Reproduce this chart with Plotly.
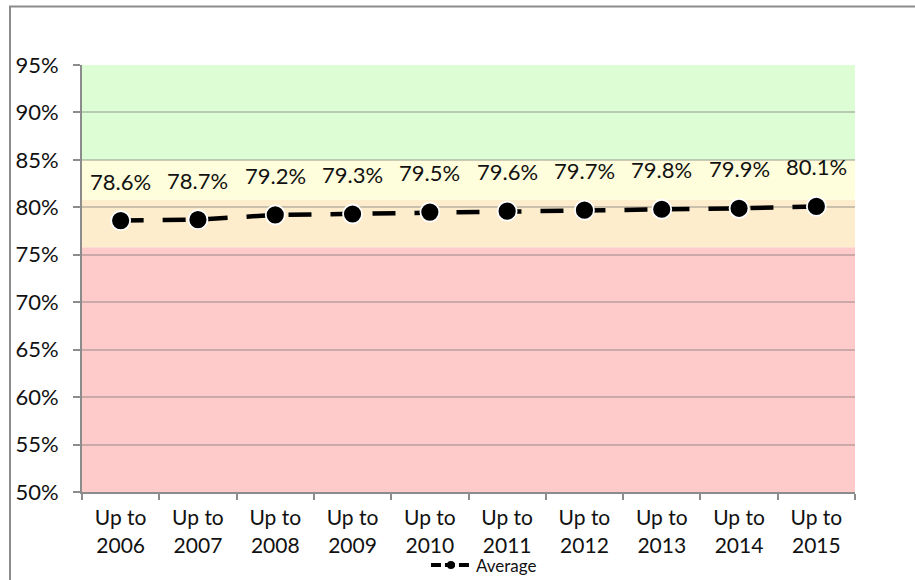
import plotly.graph_objects as go

# Cumulative average score per period
categories = ["Up to<br>2006", "Up to<br>2007", "Up to<br>2008", "Up to<br>2009", "Up to<br>2010",
              "Up to<br>2011", "Up to<br>2012", "Up to<br>2013", "Up to<br>2014", "Up to<br>2015"]
average = [78.6, 78.7, 79.2, 79.3, 79.5, 79.6, 79.7, 79.8, 79.9, 80.1]

# Rating bands (lower edge, upper edge, fill)
band_low = [50, 75.8, 80.8, 85]
band_high = [75.8, 80.8, 85, 95]
band_colors = ["#FECACA", "#FDEDCC", "#FFFEDC", "#DDFDD5"]

y_ticks = [50, 55, 60, 65, 70, 75, 80, 85, 90, 95]

FONT = "Century Gothic, Lato, sans-serif"

fig = go.Figure()

fig.add_trace(go.Scatter(
    x=categories, y=average, mode="lines+markers", showlegend=False,
    line=dict(color="black", width=4.5, dash="23px,19px"),
    marker=dict(size=19, color="black", line=dict(color="white", width=1.8)),
    cliponaxis=False,
))

# legend entry
fig.add_trace(go.Scatter(
    x=[None], y=[None], mode="lines+markers", name="Average",
    line=dict(color="black", width=4, dash="10px,4px"),
    marker=dict(size=8, color="black"),
))

shapes = []
for lo, hi, col in zip(band_low, band_high, band_colors):
    shapes.append(dict(type="rect", xref="x domain", yref="y", x0=0, x1=1, y0=lo, y1=hi,
                       fillcolor=col, line=dict(width=0), layer="below"))

# outer chart frame
shapes.append(dict(type="rect", xref="paper", yref="paper",
                   x0=(10 - 82) / 773, x1=(930 - 82) / 773,
                   y0=(492 - 600) / 427, y1=(492 - 6.5) / 427,
                   line=dict(color="#8c8c8c", width=2), fillcolor="rgba(0,0,0,0)", layer="below"))

annotations = []
for c, v in zip(categories, average):
    annotations.append(dict(x=c, y=v, xref="x", yref="y", text=f"{v:.1f}%", showarrow=False,
                            yanchor="bottom", yshift=24, font=dict(family=FONT, size=22, color="#111")))

fig.update_layout(
    width=915, height=580,
    margin=dict(l=82, r=60, t=65, b=88, autoexpand=False),
    paper_bgcolor="white", plot_bgcolor="rgba(0,0,0,0)",
    font=dict(family=FONT, size=21, color="#111"),
    shapes=shapes, annotations=annotations,
    legend=dict(orientation="h", x=0.52, xanchor="center", y=-0.172, yanchor="middle",
                font=dict(family=FONT, size=17, color="#111"), bgcolor="rgba(0,0,0,0)",
                itemwidth=40),
)

fig.update_xaxes(
    type="category", tickson="boundaries", ticks="outside", ticklen=6, tickcolor="#8c8c8c",
    tickwidth=1.5, showline=True, linecolor="#8c8c8c", linewidth=2, showgrid=False,
    tickfont=dict(family=FONT, size=21, color="#111"), range=[-0.5, 9.5],
    ticklabelstandoff=6,
)
fig.update_yaxes(
    range=[50, 95], tickvals=y_ticks, ticktext=[f"{t}%" for t in y_ticks],
    ticks="outside", ticklen=7, tickcolor="#8c8c8c", tickwidth=1.5,
    showline=True, linecolor="#8c8c8c", linewidth=2,
    showgrid=True, gridcolor="rgba(110,110,110,0.35)", gridwidth=1.5,
    zeroline=False, ticklabelstandoff=10,
    tickfont=dict(family=FONT, size=22, color="#111"),
)

fig.write_html("out.html")
